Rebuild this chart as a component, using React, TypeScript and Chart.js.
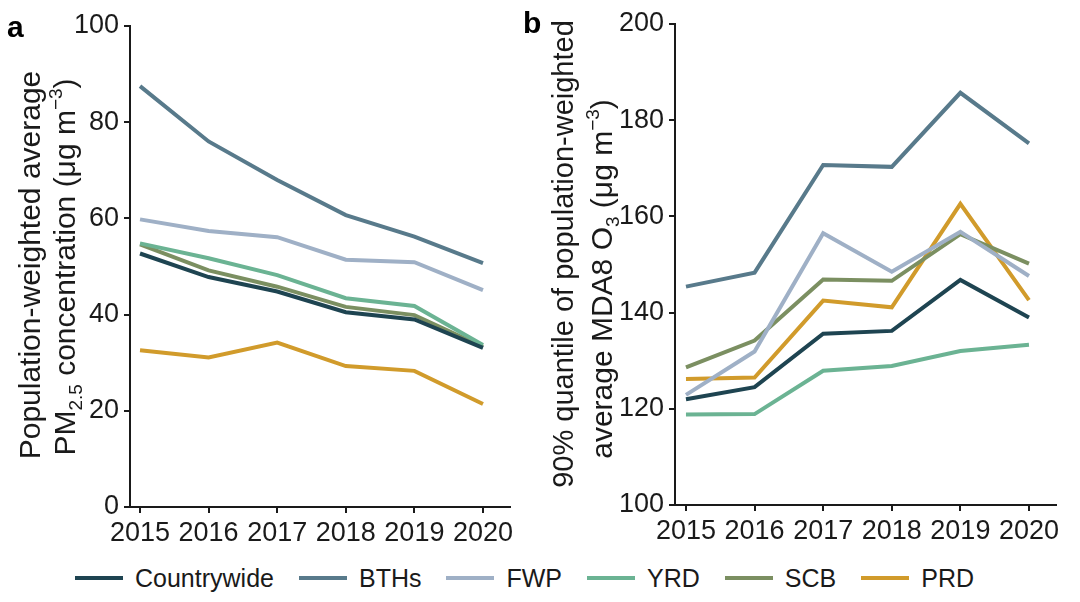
import React, { useEffect, useRef } from "react";
import { Chart, registerables } from "chart.js";

Chart.register(...registerables);

const FONT = "'Liberation Sans', Arial, Helvetica, sans-serif";
const INK = "#1a1a1a";

// ---------- data ----------
const years = [2015, 2016, 2017, 2018, 2019, 2020];
const seriesNames = ["Countrywide", "BTHs", "FWP", "YRD", "SCB", "PRD"];
const seriesColors = ["#1e4451", "#587a8b", "#9fb0c6", "#6bb393", "#7b8f61", "#d19b2b"];

const pm25Countrywide = [52.7, 47.8, 44.8, 40.5, 39.0, 33.1];
const pm25BTHs = [87.5, 76.0, 68.0, 60.7, 56.2, 50.7];
const pm25FWP = [59.8, 57.4, 56.1, 51.4, 50.9, 45.1];
const pm25YRD = [54.8, 51.7, 48.2, 43.4, 41.8, 33.7];
const pm25SCB = [54.6, 49.2, 45.8, 41.6, 39.9, 33.3];
const pm25PRD = [32.6, 31.1, 34.2, 29.3, 28.3, 21.4];

const o3Countrywide = [122.0, 124.5, 135.6, 136.2, 146.8, 139.0];
const o3BTHs = [145.4, 148.3, 170.7, 170.3, 185.7, 175.2];
const o3FWP = [122.9, 131.9, 156.5, 148.5, 156.8, 147.6];
const o3YRD = [118.8, 118.9, 127.9, 128.9, 132.0, 133.3];
const o3SCB = [128.6, 134.2, 146.9, 146.6, 156.3, 150.2];
const o3PRD = [126.2, 126.5, 142.5, 141.1, 162.6, 142.6];

const pmTicks = [0, 20, 40, 60, 80, 100];
const o3Ticks = [100, 120, 140, 160, 180, 200];

const pmSeries = [pm25Countrywide, pm25BTHs, pm25FWP, pm25YRD, pm25SCB, pm25PRD];
const o3Series = [o3Countrywide, o3BTHs, o3FWP, o3YRD, o3SCB, o3PRD];

// ---------- rich text title ----------
type Seg = { t: string; k?: "sub" | "sup" };
type TitleLine = { x: number; cy: number; size: number; segs: Seg[] };

function segFont(seg: Seg, size: number) {
  const s = seg.k ? Math.round(size * 0.62) : size;
  return `${s}px ${FONT}`;
}

function drawRich(ctx: CanvasRenderingContext2D, line: TitleLine) {
  const widths = line.segs.map((seg) => {
    ctx.font = segFont(seg, line.size);
    return ctx.measureText(seg.t).width;
  });
  const total = widths.reduce((a, b) => a + b, 0);
  ctx.save();
  ctx.translate(line.x, line.cy);
  ctx.rotate(-Math.PI / 2);
  ctx.fillStyle = INK;
  ctx.textAlign = "left";
  ctx.textBaseline = "alphabetic";
  let pos = -total / 2;
  line.segs.forEach((seg, i) => {
    ctx.font = segFont(seg, line.size);
    const dy = seg.k === "sub" ? line.size * 0.22 : seg.k === "sup" ? -line.size * 0.42 : 0;
    ctx.fillText(seg.t, pos, dy);
    pos += widths[i];
  });
  ctx.restore();
}

type PanelProps = {
  left: number;
  width: number;
  height: number;
  series: number[][];
  yTicks: number[];
  xMin: number;
  xMax: number;
  yAxisWidth: number;
  padTop: number;
  padRight: number;
  padBottom: number;
  titleLines: TitleLine[];
  letter: { t: string; x: number; y: number };
};

function Panel(p: PanelProps) {
  const ref = useRef<HTMLCanvasElement | null>(null);
  useEffect(() => {
    if (!ref.current) return;
    const titlePlugin = {
      id: "richTitle",
      afterDraw(chart: any) {
        const ctx = chart.ctx as CanvasRenderingContext2D;
        p.titleLines.forEach((l) => drawRich(ctx, l));
        ctx.save();
        ctx.font = `bold 30px ${FONT}`;
        ctx.fillStyle = "#000";
        ctx.textAlign = "left";
        ctx.textBaseline = "alphabetic";
        ctx.fillText(p.letter.t, p.letter.x, p.letter.y);
        ctx.restore();
      },
    };
    const chart = new Chart(ref.current, {
      type: "line",
      data: {
        datasets: seriesNames.map((name, i) => ({
          label: name,
          data: years.map((yr, j) => ({ x: yr, y: p.series[i][j] })),
          borderColor: seriesColors[i],
          backgroundColor: seriesColors[i],
          borderWidth: 4,
          pointRadius: 0,
          tension: 0,
          fill: false,
        })),
      },
      options: {
        animation: false,
        responsive: false,
        maintainAspectRatio: false,
        layout: { padding: { left: 0, top: p.padTop, right: p.padRight, bottom: p.padBottom } },
        plugins: { legend: { display: false }, tooltip: { enabled: false }, title: { display: false } },
        scales: {
          x: {
            type: "linear",
            min: p.xMin,
            max: p.xMax,
            afterBuildTicks: (s: any) => {
              s.ticks = years.map((v) => ({ value: v }));
            },
            afterFit: (s: any) => {
              s.height = 40;
            },
            ticks: {
              callback: (v: any) => String(v),
              font: { size: 27, family: FONT },
              color: INK,
              padding: 4,
              maxRotation: 0,
              autoSkip: false,
            },
            grid: { drawOnChartArea: false, drawTicks: true, tickLength: 6, color: INK, lineWidth: 2 },
            border: { display: true, color: INK, width: 2 },
          },
          y: {
            type: "linear",
            min: p.yTicks[0],
            max: p.yTicks[p.yTicks.length - 1],
            afterBuildTicks: (s: any) => {
              s.ticks = p.yTicks.map((v) => ({ value: v }));
            },
            afterFit: (s: any) => {
              s.width = p.yAxisWidth;
            },
            ticks: {
              callback: (v: any) => String(v),
              font: { size: 27, family: FONT },
              color: INK,
              padding: 5,
            },
            grid: { drawOnChartArea: false, drawTicks: true, tickLength: 6, color: INK, lineWidth: 2 },
            border: { display: true, color: INK, width: 2 },
          },
        },
      },
      plugins: [titlePlugin],
    });
    return () => chart.destroy();
  }, []);
  return (
    <canvas
      ref={ref}
      width={p.width}
      height={p.height}
      style={{ position: "absolute", left: p.left, top: 0, width: p.width, height: p.height }}
    />
  );
}

const titleA: TitleLine[] = [
  { x: 40, cy: 265, size: 30, segs: [{ t: "Population-weighted average" }] },
  {
    x: 75,
    cy: 267,
    size: 30,
    segs: [{ t: "PM" }, { t: "2.5", k: "sub" }, { t: " concentration (μg m" }, { t: "−3", k: "sup" }, { t: ")" }],
  },
];

const titleB: TitleLine[] = [
  { x: 53, cy: 254, size: 29, segs: [{ t: "90% quantile of population-weighted" }] },
  {
    x: 92,
    cy: 279,
    size: 30,
    segs: [{ t: "average MDA8 O" }, { t: "3", k: "sub" }, { t: " (μg m" }, { t: "−3", k: "sup" }, { t: ")" }],
  },
];

export default function App() {
  return (
    <div
      style={{
        position: "absolute",
        left: 0,
        top: 0,
        width: 1080,
        height: 602,
        background: "#fff",
        fontFamily: FONT,
        overflow: "hidden",
      }}
    >
      <Panel
        left={0}
        width={520}
        height={550}
        series={pmSeries}
        yTicks={pmTicks}
        xMin={2014.854}
        xMax={2020.394}
        yAxisWidth={130}
        padTop={26}
        padRight={10}
        padBottom={3}
        titleLines={titleA}
        letter={{ t: "a", x: 7, y: 37 }}
      />
      <Panel
        left={520}
        width={560}
        height={550}
        series={o3Series}
        yTicks={o3Ticks}
        xMin={2014.84}
        xMax={2020.394}
        yAxisWidth={155}
        padTop={24}
        padRight={24}
        padBottom={5}
        titleLines={titleB}
        letter={{ t: "b", x: 3, y: 33 }}
      />
      <div
        style={{
          position: "absolute",
          left: 75,
          top: 562,
          height: 32,
          display: "flex",
          alignItems: "center",
          whiteSpace: "nowrap",
        }}
      >
        {seriesNames.map((name, i) => (
          <div key={name} style={{ display: "flex", alignItems: "center", marginRight: 25 }}>
            <div style={{ width: 48, height: 4, background: seriesColors[i], marginRight: 12 }} />
            <span style={{ fontSize: 25, color: INK, lineHeight: "32px" }}>{name}</span>
          </div>
        ))}
      </div>
    </div>
  );
}
